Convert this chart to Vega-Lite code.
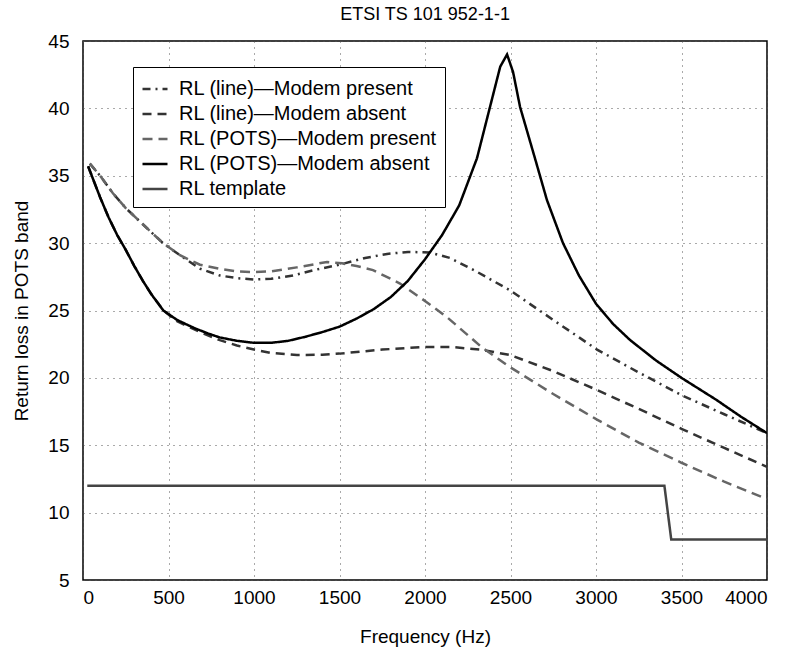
{
  "$schema": "https://vega.github.io/schema/vega-lite/v6.json",
  "width": 684,
  "height": 539,
  "autosize": {"type": "none"},
  "padding": {"left": 83, "top": 41, "right": 26, "bottom": 77},
  "background": "white",
  "title": {"text": "ETSI TS 101 952-1-1", "font": "Liberation Sans", "fontSize": 18, "fontWeight": "normal", "color": "black", "offset": 8},
  "config": {
    "view": {"stroke": "black", "strokeWidth": 1.5},
    "axis": {
      "labelFont": "Liberation Sans", "labelFontSize": 19, "labelColor": "black",
      "titleFont": "Liberation Sans", "titleFontSize": 19, "titleFontWeight": "normal", "titleColor": "black",
      "domain": false, "grid": true, "gridColor": "#555", "gridDash": [1, 5], "gridWidth": 1,
      "ticks": false, "format": "d"
    },
    "legend": {
      "orient": "none", "legendX": 50, "legendY": 26, "strokeColor": "black", "fillColor": "white",
      "padding": 8, "labelFont": "Liberation Sans", "labelFontSize": 20, "labelColor": "black", "labelLimit": 500,
      "symbolType": "stroke", "symbolSize": 625, "symbolStrokeWidth": 2.5, "rowPadding": 1, "labelOffset": 10
    }
  },
  "data": {"values": [
    {"s": "RL (line)—Modem present", "f": 40, "rl": 35.9},
    {"s": "RL (line)—Modem present", "f": 100, "rl": 35.0},
    {"s": "RL (line)—Modem present", "f": 175, "rl": 33.7},
    {"s": "RL (line)—Modem present", "f": 250, "rl": 32.6},
    {"s": "RL (line)—Modem present", "f": 333, "rl": 31.6},
    {"s": "RL (line)—Modem present", "f": 400, "rl": 30.8},
    {"s": "RL (line)—Modem present", "f": 468, "rl": 30.0},
    {"s": "RL (line)—Modem present", "f": 567, "rl": 29.1},
    {"s": "RL (line)—Modem present", "f": 684, "rl": 28.1},
    {"s": "RL (line)—Modem present", "f": 800, "rl": 27.6},
    {"s": "RL (line)—Modem present", "f": 900, "rl": 27.4},
    {"s": "RL (line)—Modem present", "f": 1000, "rl": 27.3},
    {"s": "RL (line)—Modem present", "f": 1100, "rl": 27.35},
    {"s": "RL (line)—Modem present", "f": 1228, "rl": 27.6},
    {"s": "RL (line)—Modem present", "f": 1350, "rl": 28.0},
    {"s": "RL (line)—Modem present", "f": 1500, "rl": 28.4},
    {"s": "RL (line)—Modem present", "f": 1650, "rl": 28.9},
    {"s": "RL (line)—Modem present", "f": 1778, "rl": 29.2},
    {"s": "RL (line)—Modem present", "f": 1900, "rl": 29.35},
    {"s": "RL (line)—Modem present", "f": 2029, "rl": 29.3},
    {"s": "RL (line)—Modem present", "f": 2146, "rl": 28.9},
    {"s": "RL (line)—Modem present", "f": 2300, "rl": 27.9},
    {"s": "RL (line)—Modem present", "f": 2497, "rl": 26.5},
    {"s": "RL (line)—Modem present", "f": 2750, "rl": 24.3},
    {"s": "RL (line)—Modem present", "f": 3006, "rl": 22.1},
    {"s": "RL (line)—Modem present", "f": 3250, "rl": 20.4},
    {"s": "RL (line)—Modem present", "f": 3503, "rl": 18.7},
    {"s": "RL (line)—Modem present", "f": 3750, "rl": 17.3},
    {"s": "RL (line)—Modem present", "f": 4000, "rl": 15.9},

    {"s": "RL (line)—Modem absent", "f": 30, "rl": 35.7},
    {"s": "RL (line)—Modem absent", "f": 100, "rl": 33.4},
    {"s": "RL (line)—Modem absent", "f": 150, "rl": 31.9},
    {"s": "RL (line)—Modem absent", "f": 200, "rl": 30.6},
    {"s": "RL (line)—Modem absent", "f": 250, "rl": 29.5},
    {"s": "RL (line)—Modem absent", "f": 300, "rl": 28.3},
    {"s": "RL (line)—Modem absent", "f": 350, "rl": 27.2},
    {"s": "RL (line)—Modem absent", "f": 400, "rl": 26.2},
    {"s": "RL (line)—Modem absent", "f": 470, "rl": 25.0},
    {"s": "RL (line)—Modem absent", "f": 550, "rl": 24.2},
    {"s": "RL (line)—Modem absent", "f": 684, "rl": 23.4},
    {"s": "RL (line)—Modem absent", "f": 800, "rl": 22.8},
    {"s": "RL (line)—Modem absent", "f": 900, "rl": 22.4},
    {"s": "RL (line)—Modem absent", "f": 1000, "rl": 22.1},
    {"s": "RL (line)—Modem absent", "f": 1100, "rl": 21.85},
    {"s": "RL (line)—Modem absent", "f": 1251, "rl": 21.7},
    {"s": "RL (line)—Modem absent", "f": 1400, "rl": 21.72},
    {"s": "RL (line)—Modem absent", "f": 1500, "rl": 21.8},
    {"s": "RL (line)—Modem absent", "f": 1750, "rl": 22.1},
    {"s": "RL (line)—Modem absent", "f": 2000, "rl": 22.3},
    {"s": "RL (line)—Modem absent", "f": 2146, "rl": 22.3},
    {"s": "RL (line)—Modem absent", "f": 2322, "rl": 22.1},
    {"s": "RL (line)—Modem absent", "f": 2497, "rl": 21.7},
    {"s": "RL (line)—Modem absent", "f": 2750, "rl": 20.5},
    {"s": "RL (line)—Modem absent", "f": 3006, "rl": 19.1},
    {"s": "RL (line)—Modem absent", "f": 3250, "rl": 17.7},
    {"s": "RL (line)—Modem absent", "f": 3503, "rl": 16.2},
    {"s": "RL (line)—Modem absent", "f": 3750, "rl": 14.8},
    {"s": "RL (line)—Modem absent", "f": 4000, "rl": 13.4},

    {"s": "RL (POTS)—Modem present", "f": 40, "rl": 35.9},
    {"s": "RL (POTS)—Modem present", "f": 100, "rl": 35.0},
    {"s": "RL (POTS)—Modem present", "f": 175, "rl": 33.7},
    {"s": "RL (POTS)—Modem present", "f": 250, "rl": 32.6},
    {"s": "RL (POTS)—Modem present", "f": 333, "rl": 31.6},
    {"s": "RL (POTS)—Modem present", "f": 400, "rl": 30.8},
    {"s": "RL (POTS)—Modem present", "f": 468, "rl": 30.0},
    {"s": "RL (POTS)—Modem present", "f": 567, "rl": 29.1},
    {"s": "RL (POTS)—Modem present", "f": 684, "rl": 28.4},
    {"s": "RL (POTS)—Modem present", "f": 800, "rl": 28.1},
    {"s": "RL (POTS)—Modem present", "f": 900, "rl": 27.9},
    {"s": "RL (POTS)—Modem present", "f": 1000, "rl": 27.85},
    {"s": "RL (POTS)—Modem present", "f": 1100, "rl": 27.9},
    {"s": "RL (POTS)—Modem present", "f": 1250, "rl": 28.2},
    {"s": "RL (POTS)—Modem present", "f": 1427, "rl": 28.6},
    {"s": "RL (POTS)—Modem present", "f": 1515, "rl": 28.5},
    {"s": "RL (POTS)—Modem present", "f": 1600, "rl": 28.3},
    {"s": "RL (POTS)—Modem present", "f": 1696, "rl": 28.0},
    {"s": "RL (POTS)—Modem present", "f": 1854, "rl": 27.0},
    {"s": "RL (POTS)—Modem present", "f": 2012, "rl": 25.6},
    {"s": "RL (POTS)—Modem present", "f": 2129, "rl": 24.5},
    {"s": "RL (POTS)—Modem present", "f": 2339, "rl": 22.2},
    {"s": "RL (POTS)—Modem present", "f": 2497, "rl": 20.8},
    {"s": "RL (POTS)—Modem present", "f": 2750, "rl": 18.8},
    {"s": "RL (POTS)—Modem present", "f": 3006, "rl": 16.9},
    {"s": "RL (POTS)—Modem present", "f": 3250, "rl": 15.2},
    {"s": "RL (POTS)—Modem present", "f": 3500, "rl": 13.7},
    {"s": "RL (POTS)—Modem present", "f": 3750, "rl": 12.3},
    {"s": "RL (POTS)—Modem present", "f": 4000, "rl": 11.0},

    {"s": "RL (POTS)—Modem absent", "f": 30, "rl": 35.7},
    {"s": "RL (POTS)—Modem absent", "f": 100, "rl": 33.4},
    {"s": "RL (POTS)—Modem absent", "f": 150, "rl": 31.9},
    {"s": "RL (POTS)—Modem absent", "f": 200, "rl": 30.6},
    {"s": "RL (POTS)—Modem absent", "f": 250, "rl": 29.5},
    {"s": "RL (POTS)—Modem absent", "f": 300, "rl": 28.3},
    {"s": "RL (POTS)—Modem absent", "f": 350, "rl": 27.2},
    {"s": "RL (POTS)—Modem absent", "f": 400, "rl": 26.2},
    {"s": "RL (POTS)—Modem absent", "f": 470, "rl": 25.0},
    {"s": "RL (POTS)—Modem absent", "f": 550, "rl": 24.3},
    {"s": "RL (POTS)—Modem absent", "f": 650, "rl": 23.7},
    {"s": "RL (POTS)—Modem absent", "f": 730, "rl": 23.3},
    {"s": "RL (POTS)—Modem absent", "f": 800, "rl": 23.0},
    {"s": "RL (POTS)—Modem absent", "f": 900, "rl": 22.75},
    {"s": "RL (POTS)—Modem absent", "f": 1000, "rl": 22.6},
    {"s": "RL (POTS)—Modem absent", "f": 1100, "rl": 22.6},
    {"s": "RL (POTS)—Modem absent", "f": 1200, "rl": 22.75},
    {"s": "RL (POTS)—Modem absent", "f": 1300, "rl": 23.05},
    {"s": "RL (POTS)—Modem absent", "f": 1400, "rl": 23.4},
    {"s": "RL (POTS)—Modem absent", "f": 1500, "rl": 23.8},
    {"s": "RL (POTS)—Modem absent", "f": 1600, "rl": 24.4},
    {"s": "RL (POTS)—Modem absent", "f": 1700, "rl": 25.1},
    {"s": "RL (POTS)—Modem absent", "f": 1800, "rl": 26.0},
    {"s": "RL (POTS)—Modem absent", "f": 1900, "rl": 27.2},
    {"s": "RL (POTS)—Modem absent", "f": 2000, "rl": 28.8},
    {"s": "RL (POTS)—Modem absent", "f": 2100, "rl": 30.6},
    {"s": "RL (POTS)—Modem absent", "f": 2200, "rl": 32.8},
    {"s": "RL (POTS)—Modem absent", "f": 2304, "rl": 36.3},
    {"s": "RL (POTS)—Modem absent", "f": 2380, "rl": 40.1},
    {"s": "RL (POTS)—Modem absent", "f": 2440, "rl": 43.1},
    {"s": "RL (POTS)—Modem absent", "f": 2480, "rl": 44.0},
    {"s": "RL (POTS)—Modem absent", "f": 2515, "rl": 42.7},
    {"s": "RL (POTS)—Modem absent", "f": 2556, "rl": 40.1},
    {"s": "RL (POTS)—Modem absent", "f": 2643, "rl": 36.3},
    {"s": "RL (POTS)—Modem absent", "f": 2713, "rl": 33.2},
    {"s": "RL (POTS)—Modem absent", "f": 2807, "rl": 30.0},
    {"s": "RL (POTS)—Modem absent", "f": 2900, "rl": 27.6},
    {"s": "RL (POTS)—Modem absent", "f": 3000, "rl": 25.5},
    {"s": "RL (POTS)—Modem absent", "f": 3100, "rl": 24.0},
    {"s": "RL (POTS)—Modem absent", "f": 3200, "rl": 22.8},
    {"s": "RL (POTS)—Modem absent", "f": 3350, "rl": 21.3},
    {"s": "RL (POTS)—Modem absent", "f": 3500, "rl": 20.0},
    {"s": "RL (POTS)—Modem absent", "f": 3700, "rl": 18.4},
    {"s": "RL (POTS)—Modem absent", "f": 3850, "rl": 17.1},
    {"s": "RL (POTS)—Modem absent", "f": 4000, "rl": 15.9},

    {"s": "RL template", "f": 25, "rl": 12},
    {"s": "RL template", "f": 3400, "rl": 12},
    {"s": "RL template", "f": 3440, "rl": 8},
    {"s": "RL template", "f": 4000, "rl": 8}
  ]},
  "mark": {"type": "line", "strokeWidth": 2.5, "clip": true},
  "encoding": {
    "x": {"field": "f", "type": "quantitative", "title": "Frequency (Hz)",
      "scale": {"domain": [0, 4000], "nice": false},
      "axis": {"values": [0, 500, 1000, 1500, 2000, 2500, 3000, 3500, 4000], "labelPadding": 8, "titlePadding": 20}},
    "y": {"field": "rl", "type": "quantitative", "title": "Return loss in POTS band",
      "scale": {"domain": [5, 45], "nice": false, "zero": false},
      "axis": {"values": [5, 10, 15, 20, 25, 30, 35, 40, 45], "labelPadding": 14, "titlePadding": 16}},
    "color": {"field": "s", "type": "nominal", "title": null,
      "scale": {"domain": ["RL (line)—Modem present", "RL (line)—Modem absent", "RL (POTS)—Modem present", "RL (POTS)—Modem absent", "RL template"],
                "range": ["#333333", "#333333", "#666666", "#000000", "#444444"]}},
    "strokeDash": {"field": "s", "type": "nominal", "title": null,
      "scale": {"domain": ["RL (line)—Modem present", "RL (line)—Modem absent", "RL (POTS)—Modem present", "RL (POTS)—Modem absent", "RL template"],
                "range": [[8, 5, 2, 5], [9, 6], [10, 6], [1, 0], [1, 0]]}}
  }
}
